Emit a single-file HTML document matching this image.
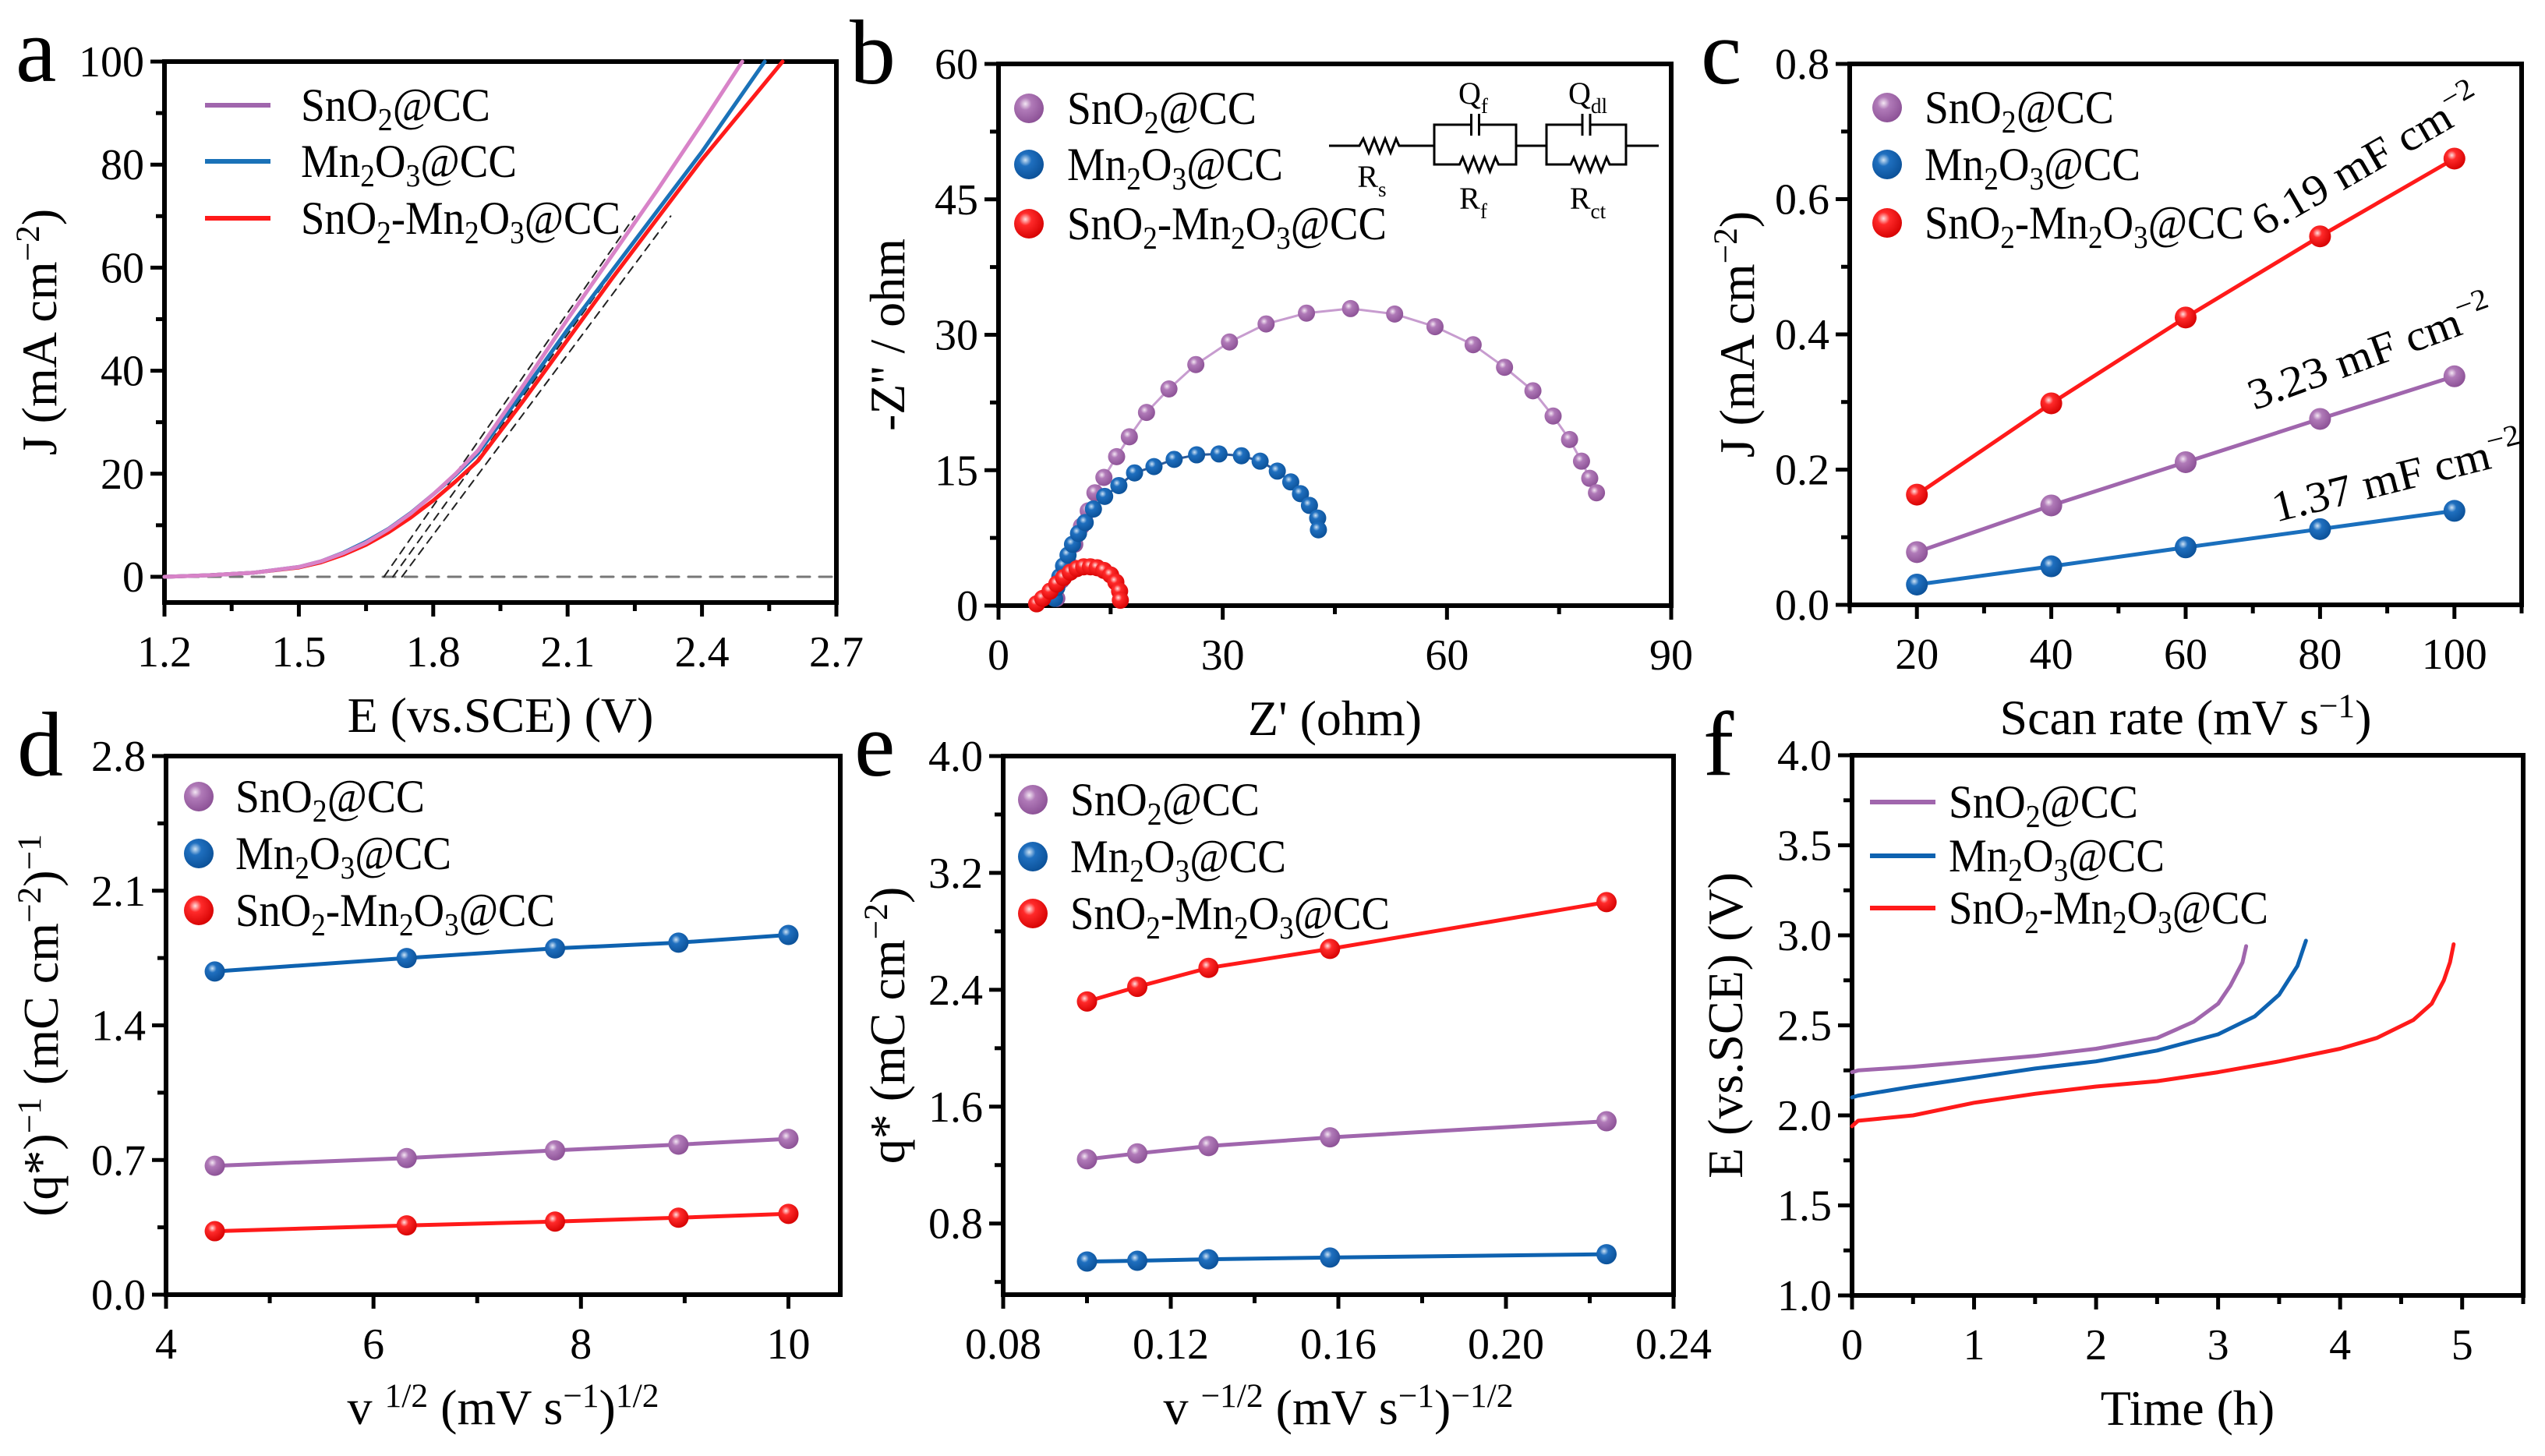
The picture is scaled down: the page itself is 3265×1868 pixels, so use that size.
<!DOCTYPE html>
<html><head><meta charset="utf-8">
<style>
html,body{margin:0;padding:0;background:#fff;}
svg text{font-family:"Liberation Serif","DejaVu Serif","Noto Serif CJK SC",serif;}
</style></head>
<body>
<svg id="fig" width="3265" height="1863" viewBox="0 0 3265 1863" xmlns="http://www.w3.org/2000/svg">
<defs>
<radialGradient id="gPink" cx="0.38" cy="0.35" r="0.7"><stop offset="0" stop-color="#f3e6f3"/><stop offset="0.3" stop-color="#b07ab8"/><stop offset="1" stop-color="#8a4f94"/></radialGradient>
<radialGradient id="gBlue" cx="0.38" cy="0.35" r="0.7"><stop offset="0" stop-color="#cfe3f5"/><stop offset="0.3" stop-color="#1f6fbf"/><stop offset="1" stop-color="#0a4f96"/></radialGradient>
<radialGradient id="gRed" cx="0.38" cy="0.35" r="0.7"><stop offset="0" stop-color="#ffe0e0"/><stop offset="0.3" stop-color="#ff2a2a"/><stop offset="1" stop-color="#d40000"/></radialGradient>
</defs>
</svg>
<script>
// ---------- Panel a data (LSV) ----------
const aPinkE=[1.2,1.3,1.4,1.5,1.55,1.6,1.65,1.7,1.75,1.8,1.85,1.9,2.0,2.1,2.2,2.3,2.4,2.49];
const aPinkJ=[0,0.3,0.8,1.9,3,4.6,6.6,9.2,12.3,16,20,24.5,37,50,62.5,75,88,100];
const aBlueE=[1.2,1.3,1.4,1.5,1.55,1.6,1.65,1.7,1.75,1.8,1.85,1.9,2.0,2.1,2.2,2.3,2.4,2.54];
const aBlueJ=[0,0.3,0.8,1.9,3,4.7,6.8,9.3,12.4,16,19.8,24,35.8,48,59.5,71,82.5,100];
const aRedE=[1.2,1.3,1.4,1.5,1.55,1.6,1.65,1.7,1.75,1.8,1.85,1.9,2.0,2.1,2.2,2.3,2.4,2.58];
const aRedJ=[0,0.3,0.8,1.8,2.8,4.3,6.2,8.6,11.5,14.8,18.5,22.5,34,46,58,69.5,81,100];
const aTanE0=[1.69,1.71,1.73];
const aTanE1=[2.25,2.29,2.33];
const aTanJ1=[70,70,70];
// ---------- Panel b data (Nyquist) ----------
const bPinkX=[7.8,8.4,9.3,10.2,11.1,12,12.9,14.1,15.8,17.5,19.8,22.8,26.4,30.9,35.8,41.2,47.1,53,58.4,63.5,67.7,71.5,74.2,76.4,78,79.1,80.0];
const bPinkY=[0.8,2.8,4.8,6.8,8.8,10.5,12.5,14.2,16.5,18.7,21.4,24,26.7,29.2,31.2,32.4,32.9,32.3,30.9,28.9,26.4,23.8,21,18.4,16,14.1,12.5];
const bBlueX=[7.5,7.8,8.2,8.7,9.3,9.9,10.7,11.6,12.7,14.2,16.1,18.2,20.8,23.5,26.5,29.5,32.5,35,37.3,39.1,40.4,41.6,42.7,42.8];
const bBlueY=[0.8,2,3.2,4.4,5.6,6.8,8,9.2,10.7,12.1,13.3,14.7,15.4,16.2,16.7,16.8,16.6,16,14.9,13.7,12.4,11.1,9.7,8.4];
const bRedX=[5.1,5.9,6.9,7.8,8.7,9.6,10.5,11.4,12.3,13.2,14.1,15,15.7,16.2,16.3];
const bRedY=[0.2,0.8,1.6,2.4,3.1,3.7,4.1,4.3,4.3,4.2,3.9,3.4,2.6,1.6,0.6];
// ---------- Panel c data ----------
const cRate=[20,40,60,80,100];
const cPink=[0.078,0.147,0.211,0.275,0.338];
const cBlue=[0.030,0.057,0.085,0.112,0.139];
const cRed=[0.163,0.298,0.425,0.545,0.660];
// ---------- Panel d data ----------
const dX=[4.47,6.32,7.75,8.94,10];
const dBlue=[1.68,1.75,1.80,1.83,1.87];
const dPink=[0.67,0.71,0.75,0.78,0.81];
const dRed=[0.33,0.36,0.38,0.40,0.42];
// ---------- Panel e data ----------
const eX=[0.1,0.112,0.129,0.158,0.224];
const eRed=[2.32,2.42,2.55,2.68,3.0];
const ePink=[1.24,1.28,1.33,1.39,1.50];
const eBlue=[0.54,0.545,0.555,0.567,0.59];
// ---------- Panel f data ----------
const fPinkT=[0,0.05,0.5,1,1.5,2,2.5,2.8,3.0,3.1,3.2,3.23];
const fPinkV=[2.24,2.25,2.27,2.30,2.33,2.37,2.43,2.52,2.62,2.72,2.85,2.94];
const fBlueT=[0,0.05,0.5,1,1.5,2,2.5,3,3.3,3.5,3.65,3.72];
const fBlueV=[2.10,2.11,2.16,2.21,2.26,2.30,2.36,2.45,2.55,2.67,2.83,2.97];
const fRedT=[0,0.05,0.2,0.5,1,1.5,2,2.5,3,3.5,4,4.3,4.6,4.75,4.85,4.9,4.93];
const fRedV=[1.94,1.97,1.98,2.00,2.07,2.12,2.16,2.19,2.24,2.30,2.37,2.43,2.53,2.62,2.75,2.85,2.95];

const PINK='#a066ad', BLUE='#0e62b0', RED='#ff1a1a', PINKL='#d883c8';
const NS='http://www.w3.org/2000/svg';
const svg=document.getElementById('fig');
function el(tag,attrs,parent){const e=document.createElementNS(NS,tag);for(const k in attrs)e.setAttribute(k,attrs[k]);(parent||svg).appendChild(e);return e;}
function txt(x,y,html,size,anchor,parent,rot,len){const t=el('text',{x:x,y:y,'font-size':size,'text-anchor':anchor||'start',fill:'#000'},parent);if(rot)t.setAttribute('transform','rotate('+rot+' '+x+' '+y+')');if(len){t.setAttribute('textLength',len);t.setAttribute('lengthAdjust','spacingAndGlyphs');}t.innerHTML=html;return t;}
const sub=(s)=>'<tspan dy="12" font-size="0.68em">'+s+'</tspan><tspan dy="-12">';
const sup=(s)=>'<tspan dy="-22" font-size="0.68em">'+s+'</tspan><tspan dy="22">';
const L_SNO2='SnO'+sub('2')+'@CC</tspan>';
const L_MN='Mn'+sub('2')+'O</tspan>'+sub('3')+'@CC</tspan>';
const L_MIX='SnO'+sub('2')+'-Mn</tspan>'+sub('2')+'O</tspan>'+sub('3')+'@CC</tspan>';

function makeAxes(p){
  const g=el('g',{});
  
  
  const sx=v=>p.L+(v-p.x0)/(p.x1-p.x0)*(p.R-p.L);
  const sy=v=>p.B-(v-p.y0)/(p.y1-p.y0)*(p.B-p.T);
  const tg=el('g',{stroke:'#000','stroke-width':5},g);
  
  
  for(let v=p.xm0; v<=p.x1+1e-9; v+=p.xmin){const X=sx(v);const maj=Math.abs(((v-p.xt0)/p.xmaj)-Math.round((v-p.xt0)/p.xmaj))<1e-6;el('line',{x1:X,x2:X,y1:p.B,y2:p.B+(maj?18:11)},tg);}
  for(let v=p.ym0; v<=p.y1+1e-9; v+=p.ymin){const Y=sy(v);const maj=Math.abs(((v-p.yt0)/p.ymaj)-Math.round((v-p.yt0)/p.ymaj))<1e-6;el('line',{x1:p.L,x2:p.L-(maj?18:11),y1:Y,y2:Y},tg);}
  const lg=el('g',{},g);
  
  
  p.xticks.forEach((v,i)=>txt(sx(v),p.B+82,p.xlab[i],56,'middle',lg));
  p.yticks.forEach((v,i)=>txt(p.L-26,sy(v)+19,p.ylab[i],56,'end',lg));
  const fr=el('rect',{x:p.L,y:p.T,width:p.R-p.L,height:p.B-p.T,fill:'none',stroke:'#000','stroke-width':6},g);
  
  
  const xt=txt((p.L+p.R)/2,p.B+166,p.xtitle,64,'middle',g);
  
  
  const yt=txt(p.ytx,(p.T+p.B)/2,p.ytitle,64,'middle',g,-90);
  
  
  const pl=txt(p.L-191,p.T+25,p.letter,118,'start',g);
  
  
  return {g,sx,sy};
}
function polyline(ax,xs,ys,color,w,name,extra){
  const pts=xs.map((x,i)=>ax.sx(x).toFixed(1)+','+ax.sy(ys[i]).toFixed(1)).join(' ');
  const pl=el('polyline',Object.assign({points:pts,fill:'none',stroke:color,'stroke-width':w,'stroke-linejoin':'round','stroke-linecap':'round'},extra||{}),ax.g);
  
  
  return pl;
}
function markers(ax,xs,ys,grad,r,name){
  const g=el('g',{},ax.g);
  
  
  xs.forEach((x,i)=>{const c=el('circle',{cx:ax.sx(x),cy:ax.sy(ys[i]),r:r,fill:'url(#'+grad+')'},g);
    
    });
}
function legend(ax,x,ys,items,type,textX){
  const g=el('g',{},ax.g);
  
  
  items.forEach((it,i)=>{
    const eg=el('g',{},g);
    
    
    if(type==='line') el('line',{x1:x,x2:x+84,y1:ys[i],y2:ys[i],stroke:it.c,'stroke-width':6},eg);
    else el('circle',{cx:x,cy:ys[i],r:19,fill:'url(#'+it.g+')'},eg);
    txt(textX,ys[i]+20,it.t,60,'start',eg,0,it.w);
  });
}
const W1=243,W2=277,W3=410;

// ===== Panel a =====
const A=makeAxes({name:'panel-a',L:211,R:1073,T:79,B:773,x0:1.2,x1:2.7,y0:-5,y1:100,
 xm0:1.2,xmin:0.15,xt0:1.2,xmaj:0.3,ym0:0,ymin:10,yt0:0,ymaj:20,
 xticks:[1.2,1.5,1.8,2.1,2.4,2.7],xlab:['1.2','1.5','1.8','2.1','2.4','2.7'],
 yticks:[0,20,40,60,80,100],ylab:['0','20','40','60','80','100'],
 xtitle:'E (vs.SCE) (V)',ytitle:'J (mA cm'+sup('−2')+')</tspan>',ytx:72,letter:'a'});
polyline(A,[1.2,2.7],[0,0],'#777',3,'zero-baseline',{'stroke-dasharray':'16 12'});
aTanE0.forEach((e0,i)=>polyline(A,[e0,aTanE1[i]],[0,aTanJ1[i]],'#222',2,'tangent-line',{'stroke-dasharray':'10 8'}));
polyline(A,aRedE,aRedJ,RED,5,'lsv-snO2-mn2o3');
polyline(A,aBlueE,aBlueJ,'#1a72b8',5,'lsv-mn2o3');
polyline(A,aPinkE,aPinkJ,PINKL,5,'lsv-sno2');
legend(A,263,[135,207,280],[{c:PINK,t:L_SNO2,w:W1},{c:'#1a72b8',t:L_MN,w:W2},{c:RED,t:L_MIX,w:W3}],'line',386);

// ===== Panel b =====
const Bp=makeAxes({name:'panel-b',L:1281,R:2144,T:82,B:777,x0:0,x1:90,y0:0,y1:60,
 xm0:0,xmin:15,xt0:0,xmaj:30,ym0:0,ymin:7.5,yt0:0,ymaj:15,
 xticks:[0,30,60,90],xlab:['0','30','60','90'],
 yticks:[0,15,30,45,60],ylab:['0','15','30','45','60'],
 xtitle:"Z' (ohm)",ytitle:"-Z'' / ohm",ytx:1160,letter:'b'});
polyline(Bp,bPinkX,bPinkY,'#c79ccf',3,'fit-sno2');
polyline(Bp,bBlueX,bBlueY,'#2a5a9a',3,'fit-mn2o3');
markers(Bp,bPinkX,bPinkY,'gPink',11,'nyquist-sno2');
markers(Bp,bBlueX,bBlueY,'gBlue',11,'nyquist-mn2o3');
markers(Bp,bRedX,bRedY,'gRed',11,'nyquist-mix');
legend(Bp,1320,[139,211,287],[{g:'gPink',t:L_SNO2,w:W1},{g:'gBlue',t:L_MN,w:W2},{g:'gRed',t:L_MIX,w:W3}],'dot',1369);
(function(){
  const g=el('g',{stroke:'#000','stroke-width':3,fill:'none'},Bp.g);
  
  
  const y=187;
  el('path',{d:'M1705 '+y+' H1744 l5 -9 l7 18 l7 -18 l7 18 l7 -18 l7 18 l7 -18 l4 9 H1840 M1945 '+y+' H1984 M2086 '+y+' H2128'},g);
  [[1840,1945],[1984,2086]].forEach(([a,b])=>{
    const m=(a+b)/2;
    el('path',{d:'M'+a+' 187 V160 H'+(m-5)+' M'+(m+5)+' 160 H'+b+' V211 H'+(m+30)+' l-4 -9 l-7 18 l-7 -18 l-7 18 l-7 -18 l-7 18 l-7 -18 l-4 9 H'+a+' V187 M'+(m-5)+' 146 V174 M'+(m+5)+' 146 V174'},g);
  });
  const tg=el('g',{},Bp.g);
  
  
  txt(1760,240,'R'+sub('s')+'</tspan>',40,'middle',tg);
  txt(1890,133,'Q'+sub('f')+'</tspan>',40,'middle',tg);
  txt(1890,268,'R'+sub('f')+'</tspan>',40,'middle',tg);
  txt(2037,133,'Q'+sub('dl')+'</tspan>',40,'middle',tg);
  txt(2037,268,'R'+sub('ct')+'</tspan>',40,'middle',tg);
})();

// ===== Panel c =====
const C=makeAxes({name:'panel-c',L:2373,R:3235,T:82,B:776,x0:10,x1:110,y0:0,y1:0.8,
 xm0:10,xmin:10,xt0:20,xmaj:20,ym0:0,ymin:0.1,yt0:0,ymaj:0.2,
 xticks:[20,40,60,80,100],xlab:['20','40','60','80','100'],
 yticks:[0,0.2,0.4,0.6,0.8],ylab:['0.0','0.2','0.4','0.6','0.8'],
 xtitle:'Scan rate (mV s'+sup('−1')+')</tspan>',ytitle:'J (mA cm'+sup('−2')+')</tspan>',ytx:2250,letter:'c'});
polyline(C,cRate,cRed,RED,5,'fit-mix');
polyline(C,cRate,cPink,PINK,5,'fit-sno2');
polyline(C,cRate,cBlue,'#1a6fbd',5,'fit-mn2o3');
markers(C,cRate,cRed,'gRed',14,'cdl-mix');
markers(C,cRate,cPink,'gPink',14,'cdl-sno2');
markers(C,cRate,cBlue,'gBlue',14,'cdl-mn2o3');
legend(C,2421,[138,211,286],[{g:'gPink',t:L_SNO2,w:W1},{g:'gBlue',t:L_MN,w:W2},{g:'gRed',t:L_MIX,w:W3}],'dot',2469);
(function(){const a1=txt(3045,222,'6.19 mF cm'+sup('−2')+'</tspan>',56,'middle',C.g,-30,330);

const a2=txt(3047,470,'3.23 mF cm'+sup('−2')+'</tspan>',56,'middle',C.g,-20,330);

const a3=txt(3080,630,'1.37 mF cm'+sup('−2')+'</tspan>',56,'middle',C.g,-14,330);
})();

// ===== Panel d =====
const D=makeAxes({name:'panel-d',L:213,R:1078,T:970,B:1661,x0:4,x1:10.5,y0:0,y1:2.8,
 xm0:4,xmin:1,xt0:4,xmaj:2,ym0:0,ymin:0.35,yt0:0,ymaj:0.7,
 xticks:[4,6,8,10],xlab:['4','6','8','10'],
 yticks:[0,0.7,1.4,2.1,2.8],ylab:['0.0','0.7','1.4','2.1','2.8'],
 xtitle:'v '+sup('1/2')+' (mV s'+sup('−1')+')</tspan>'+sup('1/2')+'</tspan></tspan>',ytitle:'(q*)'+sup('−1')+' (mC cm'+sup('−2')+')'+sup('−1')+'</tspan></tspan></tspan>',ytx:74,letter:'d'});
polyline(D,dX,dBlue,BLUE,5,'fit-mn2o3');
polyline(D,dX,dPink,PINK,5,'fit-sno2');
polyline(D,dX,dRed,RED,5,'fit-mix');
markers(D,dX,dBlue,'gBlue',13,'d-mn2o3');
markers(D,dX,dPink,'gPink',13,'d-sno2');
markers(D,dX,dRed,'gRed',13,'d-mix');
legend(D,255,[1022,1095,1168],[{g:'gPink',t:L_SNO2,w:W1},{g:'gBlue',t:L_MN,w:W2},{g:'gRed',t:L_MIX,w:W3}],'dot',302);

// ===== Panel e =====
const E=makeAxes({name:'panel-e',L:1287,R:2147,T:970,B:1661,x0:0.08,x1:0.24,y0:0.313,y1:4.0,
 xm0:0.08,xmin:0.02,xt0:0.08,xmaj:0.04,ym0:0.4,ymin:0.4,yt0:0.8,ymaj:0.8,
 xticks:[0.08,0.12,0.16,0.20,0.24],xlab:['0.08','0.12','0.16','0.20','0.24'],
 yticks:[0.8,1.6,2.4,3.2,4.0],ylab:['0.8','1.6','2.4','3.2','4.0'],
 xtitle:'v '+sup('−1/2')+' (mV s'+sup('−1')+')</tspan>'+sup('−1/2')+'</tspan></tspan>',ytitle:'q* (mC cm'+sup('−2')+')</tspan>',ytx:1160,letter:'e'});
polyline(E,eX,eRed,RED,5,'fit-mix');
polyline(E,eX,ePink,PINK,5,'fit-sno2');
polyline(E,eX,eBlue,BLUE,5,'fit-mn2o3');
markers(E,eX,eRed,'gRed',13,'e-mix');
markers(E,eX,ePink,'gPink',13,'e-sno2');
markers(E,eX,eBlue,'gBlue',13,'e-mn2o3');
legend(E,1325,[1026,1099,1172],[{g:'gPink',t:L_SNO2,w:W1},{g:'gBlue',t:L_MN,w:W2},{g:'gRed',t:L_MIX,w:W3}],'dot',1373);

// ===== Panel f =====
const F=makeAxes({name:'panel-f',L:2376,R:3237,T:969,B:1662,x0:0,x1:5.5,y0:1.0,y1:4.0,
 xm0:0,xmin:0.5,xt0:0,xmaj:1,ym0:1.0,ymin:0.25,yt0:1.0,ymaj:0.5,
 xticks:[0,1,2,3,4,5],xlab:['0','1','2','3','4','5'],
 yticks:[1,1.5,2,2.5,3,3.5,4],ylab:['1.0','1.5','2.0','2.5','3.0','3.5','4.0'],
 xtitle:'Time (h)',ytitle:'E (vs.SCE) (V)',ytx:2235,letter:'f'});
polyline(F,fPinkT,fPinkV,PINK,5,'stability-sno2');
polyline(F,fBlueT,fBlueV,BLUE,5,'stability-mn2o3');
polyline(F,fRedT,fRedV,RED,5,'stability-mix');
legend(F,2399,[1029,1098,1165],[{c:PINK,t:L_SNO2,w:W1},{c:BLUE,t:L_MN,w:W2},{c:RED,t:L_MIX,w:W3}],'line',2500);
</script>
</body></html>
